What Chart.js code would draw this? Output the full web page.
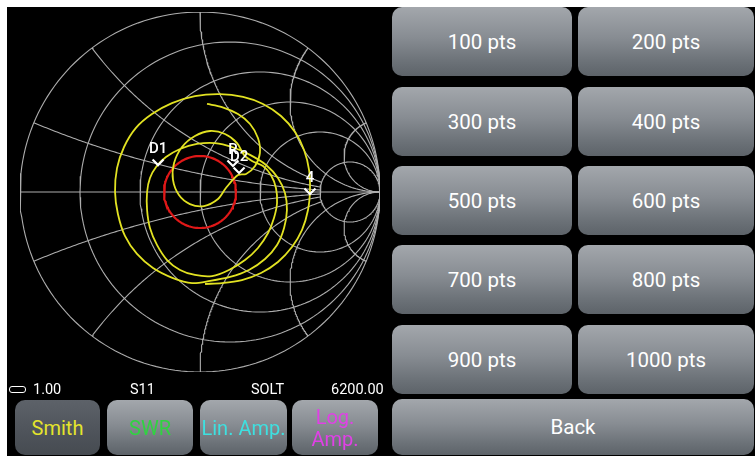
<!DOCTYPE html>
<html>
<head>
<meta charset="utf-8">
<script src="https://cdn.jsdelivr.net/npm/chart.js@4.4.0/dist/chart.umd.min.js"></script>
<style>
html, body { margin: 0; padding: 0; background: #fff; }
body { width: 755px; height: 456px; overflow: hidden; position: relative; font-family: Roboto, "Noto Sans", sans-serif; }
#screen { position: absolute; left: 7px; top: 7px; width: 748px; height: 449px; background: #000; }
#smithBox { position: absolute; left: 10px; top: 2px; width: 380px; height: 380px; }
.btn { position: absolute; border-radius: 10px; color: #fff; font-size: 20.5px; line-height: 22px;
  display: flex; align-items: center; justify-content: center; text-align: center;
  background: linear-gradient(#a3a7ac, #878c92 45%, #6b7177 80%, #5d6369); }
.btn.mode { font-size: 20px; }
.btn.sel { background: linear-gradient(#5d6269, #4e535a 60%, #464b51); }
.status { position: absolute; color: #fff; font-size: 14.5px; }
#batt { position: absolute; left: 9px; top: 386px; width: 15px; height: 5px; border: 1.5px solid #fff; border-radius: 3px; }
</style>
</head>
<body>
<div id="screen"></div>
<div id="smithBox"><canvas id="smith" width="380" height="380"></canvas></div>
<div id="batt"></div>
<div id="ui"></div>
<script>
// Smith chart grid values
const resistanceCircles = [0, 0.2, 0.5, 1, 2, 5];
const reactanceArcs = [0.2, 0.5, 1, 2, 5, -0.2, -0.5, -1, -2, -5];
const reactanceStopR = [5, 5, 5, 1000, 1000, 5, 5, 5, 1000, 1000];
const swrRadius = 0.2;

// S11 trace (reflection coefficient, real / imaginary)
const traceRe = [0.039, 0.122, 0.211, 0.278, 0.322, 0.333, 0.306, 0.256, 0.211,
  0.144, 0.100, 0.022, -0.056, -0.117, -0.150, -0.144, -0.100, -0.028, 0.056, 0.139, 0.206, 0.244,
  0.289, 0.350, 0.394, 0.422, 0.428, 0.411, 0.378, 0.322, 0.250, 0.161, 0.067,
  -0.028, -0.111, -0.183, -0.239, -0.278, -0.294, -0.294, -0.278, -0.244, -0.189, -0.111, -0.017, 0.083,
  0.178, 0.278, 0.367, 0.433, 0.472, 0.483, 0.467, 0.428, 0.361, 0.272, 0.167, 0.056,
  -0.044, -0.150, -0.261, -0.350, -0.417, -0.456, -0.472, -0.461, -0.422, -0.356, -0.267, -0.156,
  -0.028, 0.111, 0.239, 0.350, 0.450, 0.528, 0.578, 0.606, 0.611, 0.600, 0.567, 0.511, 0.433,
  0.339, 0.233, 0.122, 0.028];
const traceIm = [0.489, 0.472, 0.433, 0.378, 0.300, 0.217, 0.144, 0.100, 0.094,
  0.022, -0.039, -0.078, -0.067, -0.017, 0.067, 0.161, 0.250, 0.311, 0.339, 0.322, 0.272, 0.206,
  0.172, 0.144, 0.094, 0.022, -0.061, -0.144, -0.228, -0.311, -0.378, -0.433, -0.467,
  -0.461, -0.433, -0.378, -0.294, -0.200, -0.100, 0.000, 0.078, 0.139, 0.194, 0.239, 0.267, 0.272,
  0.250, 0.206, 0.150, 0.078, -0.006, -0.100, -0.200, -0.294, -0.372, -0.433, -0.472, -0.494,
  -0.506, -0.478, -0.422, -0.344, -0.244, -0.122, 0.000, 0.133, 0.250, 0.356, 0.433, 0.494,
  0.533, 0.544, 0.528, 0.489, 0.422, 0.333, 0.233, 0.122, 0.011, -0.100, -0.211, -0.306, -0.389,
  -0.450, -0.489, -0.506, -0.511];

// markers
const markerNames = ['D1', 'R', 'D2', '4'];
const markerRe = [-0.233, 0.183, 0.217, 0.611];
const markerIm = [0.144, 0.139, 0.100, -0.017];

// texts
const statusLabels = ['1.00', 'S11', 'SOLT', '6200.00'];
const modeButtons = ['Smith', 'SWR', 'Lin. Amp.', 'Log.<br>Amp.'];
const modeColors = ['#e4e42c', '#2fd440', '#3ee0e0', '#e040e6'];
const pointButtons = ['100 pts', '200 pts', '300 pts', '400 pts', '500 pts', '600 pts', '700 pts', '800 pts', '900 pts', '1000 pts'];

// z = a + jb -> gamma
function gamma(a, b) {
  const d = (a + 1) * (a + 1) + b * b;
  return { x: (a * a + b * b - 1) / d, y: 2 * b / d };
}

let gridSets = [];
gridSets.push([{ x: -1, y: 0 }, { x: 1, y: 0 }]);
resistanceCircles.forEach(r => {
  let cx = r / (1 + r), rad = 1 / (1 + r), pts = [];
  for (let i = 0; i <= 180; i++) {
    let t = i / 180 * 2 * Math.PI;
    pts.push({ x: cx + rad * Math.cos(t), y: rad * Math.sin(t) });
  }
  gridSets.push(pts);
});
reactanceArcs.forEach((xv, k) => {
  let pts = [], stop = reactanceStopR[k];
  let tEnd = stop / (1 + stop);
  for (let i = 0; i <= 150; i++) {
    let t = i / 150 * tEnd;
    pts.push(gamma(t / (1 - t), xv));
  }
  if (stop > 100) pts.push({ x: 1, y: 0 });
  gridSets.push(pts);
});

let swrPts = [];
for (let i = 0; i <= 120; i++) {
  let t = i / 120 * 2 * Math.PI;
  swrPts.push({ x: swrRadius * Math.cos(t), y: swrRadius * Math.sin(t) });
}

let tracePts = traceRe.map((v, i) => ({ x: v, y: traceIm[i] }));

let datasets = gridSets.map(p => ({
  data: p, showLine: true, pointRadius: 0, borderColor: '#adadad', borderWidth: 1.1, order: 3
}));
datasets.push({ data: swrPts, showLine: true, pointRadius: 0, borderColor: '#e01818', borderWidth: 2.2, order: 2 });
datasets.push({ data: tracePts, showLine: true, pointRadius: 0, borderColor: '#e2e222', borderWidth: 1.8, tension: 0.3, order: 1 });

const markerPlugin = {
  id: 'markers',
  afterDatasetsDraw(chart) {
    const c = chart.ctx, xs = chart.scales.x, ys = chart.scales.y;
    c.save();
    c.strokeStyle = '#fff';
    c.fillStyle = '#fff';
    c.lineWidth = 2.2;
    c.font = '500 15px Roboto';
    c.textAlign = 'center';
    markerNames.forEach((n, i) => {
      const px = xs.getPixelForValue(markerRe[i]);
      const py = ys.getPixelForValue(markerIm[i]);
      c.beginPath();
      c.moveTo(px - 5.5, py - 6.5);
      c.lineTo(px, py - 1);
      c.lineTo(px + 5.5, py - 6.5);
      c.stroke();
      c.fillText(n, px, py - 13);
    });
    c.restore();
  }
};

new Chart(document.getElementById('smith').getContext('2d'), {
  type: 'scatter',
  data: { datasets: datasets },
  options: {
    responsive: false,
    animation: false,
    layout: { padding: 10 },
    plugins: { legend: { display: false }, tooltip: { enabled: false } },
    scales: {
      x: { type: 'linear', min: -1, max: 1, display: false },
      y: { type: 'linear', min: -1, max: 1, display: false }
    }
  },
  plugins: [markerPlugin]
});

// UI around the chart
const ui = document.getElementById('ui');
function addDiv(cls, html, l, t, w, h, color) {
  const d = document.createElement('div');
  d.className = cls;
  d.innerHTML = html;
  d.style.left = l + 'px';
  d.style.top = t + 'px';
  if (w) d.style.width = w + 'px';
  if (h) d.style.height = h + 'px';
  if (color) d.style.color = color;
  ui.appendChild(d);
}
const statusX = [33, 130, 251, 331];
statusLabels.forEach((s, i) => addDiv('status', s, statusX[i], 381));

const modeX = [15, 107, 200, 292];
const modeW = [85, 86, 87, 86];
modeButtons.forEach((s, i) => addDiv(i == 0 ? 'btn mode sel' : 'btn mode', s, modeX[i], 400, modeW[i], 55, modeColors[i]));

const rowTop = [7, 87, 166, 245, 325];
pointButtons.forEach((s, i) => {
  const col = i % 2, row = Math.floor(i / 2);
  addDiv('btn', s, col ? 578 : 392, rowTop[row], col ? 176 : 180, 69);
});
addDiv('btn', 'Back', 392, 399, 362, 56);
</script>
</body>
</html>
